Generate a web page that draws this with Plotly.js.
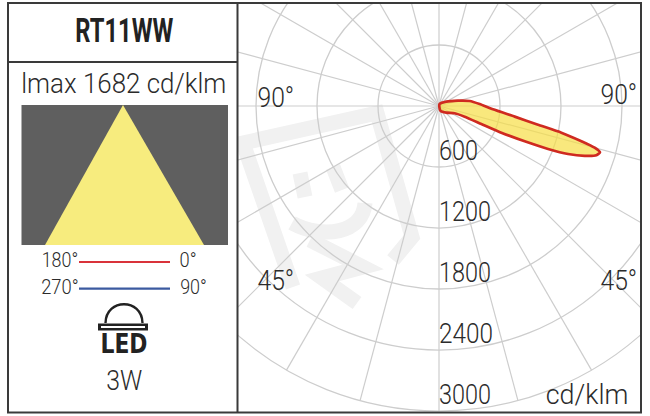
<!DOCTYPE html>
<html>
<head>
<meta charset="utf-8">
<script src="https://cdn.plot.ly/plotly-3.0.1.min.js"></script>
<style>
html,body{margin:0;padding:0;background:#fff;width:650px;height:416px;overflow:hidden;position:relative}
#chart{position:absolute;left:0;top:-199px;width:744px;height:625px}
</style>
</head>
<body>
<div id="chart"></div>
<script>
// Luminous intensity outline (cd/klm) by angle from nadir (degrees)
var lobeTheta = [161.6,120.6,105.7,99.3,92.8,86.5,82,79.3,77.7,76.1,75,73.95,72.6,71.1,69.6,68.5,67.6,66.8,67,67.4,65,47.7,18.4,26,161.6];
var lobeR     = [21,84,194,306,400,532,752,991,1232,1443,1585,1648,1622,1515,1354,1153,912,667,452,273,170,97,52,7,21];
var radialValues = [600,1200,1800,2400,3000];
var radialLabels = ['600','1200','1800','2400','3000'];
var angleLabels = ['90°','90°','45°','45°'];
var title = 'RT11WW';
var peakText = 'lmax 1682 cd/klm';
var powerText = '3W';
var unitText = 'cd/klm';
var legendLeft = ['180°','270°'];
var legendRight = ['0°','90°'];

var W = 744, H = 625, TOP = 199, R = 610;
var X = function(x){ return x / W; };
var Y = function(y){ return 1 - (y + TOP) / H; };

var FONT = 'Roboto,"Liberation Sans",sans-serif';
var INK = '#2b2b2b', FRAME = '#3a3a3a', GRID = '#cdcdcd';

function txt(text,x,y,size,opts){
  return Object.assign({text:text,xref:'paper',yref:'paper',x:X(x),y:Y(y),showarrow:false,
    xanchor:'center',yanchor:'middle',borderpad:0,
    font:{family:FONT,size:size,color:INK,weight:300}},opts||{});
}
function rect(x0,y0,x1,y1,fill){
  return {type:'rect',xref:'paper',yref:'paper',x0:X(x0),x1:X(x1),y0:Y(y0),y1:Y(y1),
    fillcolor:fill,line:{width:0},layer:'above'};
}
function seg(x0,y0,x1,y1,color,width){
  return {type:'line',xref:'paper',yref:'paper',x0:X(x0),x1:X(x1),y0:Y(y0),y1:Y(y1),
    line:{color:color,width:width},layer:'above'};
}
function path(d,opts){
  return Object.assign({type:'path',xref:'paper',yref:'paper',path:d,layer:'above',line:{width:0}},opts||{});
}
function P(cmds){
  return cmds.map(function(c){
    var s=c[0];
    for(var i=1;i<c.length;i+=2){ s+=(i>1?' ':'')+X(c[i]).toFixed(5)+','+Y(c[i+1]).toFixed(5); }
    return s;
  }).join(' ');
}
var mark = {line:{color:'#f1f1f1',width:15},fillcolor:'rgba(0,0,0,0)',layer:'below'};

var shapes = [
  path(P([['M',293,287],['L',243,143],['L',377,113],['L',412,237],['L',393,260]]),mark),
  path(P([['M',300,173],['L',305,197]]),mark),
  path(P([['M',333,167],['L',342,190]]),mark),
  path(P([['M',292,223],['C',323,240,363,233,365,203]]),mark),
  path(P([['M',310,240],['L',363,267],['L',322,278],['L',357,303]]),mark),
  rect(0,-199,238,426,'#ffffff'),
  rect(641,-199,744,426,'#ffffff'),
  rect(0,-199,744,3,'#ffffff'),
  rect(0,413,744,426,'#ffffff'),
  rect(21.5,105,228,245,'#5f5f5f'),
  path(P([['M',123,105],['L',204,245],['L',45,245],['Z']]),{fillcolor:'#f7ec7e'}),
  seg(79,262,170,262,'#d9333a',2.2),
  seg(79,288.7,170,288.7,'#3b5aa0',2.2),
  path(P([['M',105.5,323],['C',106,298,142,298,142.5,323]]),{line:{color:'#222',width:2.4},fillcolor:'rgba(0,0,0,0)'}),
  rect(98,323.5,148,330.5,'#222222'),
  rect(101,326,145,328,'#ffffff'),
  {type:'rect',xref:'paper',yref:'paper',x0:X(8),x1:X(641),y0:Y(3),y1:Y(412.5),line:{color:FRAME,width:2},fillcolor:'rgba(0,0,0,0)',layer:'above'},
  seg(237.5,3,237.5,412.5,FRAME,2),
  seg(8,62,237.5,62,FRAME,2)
];

var LEGEND_SIZE = 19.5, LABEL_SIZE = 28;
var annotations = [
  txt('<b>'+title+'</b>',125,30.5,34,{font:{family:FONT,size:34,color:'#222'}}),
  txt(peakText,124,84,27),
  txt(legendLeft[0],60,260,LEGEND_SIZE),
  txt(legendLeft[1],59.5,287.5,LEGEND_SIZE),
  txt(legendRight[0],188,260,LEGEND_SIZE),
  txt(legendRight[1],193.5,287.5,LEGEND_SIZE),
  txt('<b>LED</b>',123.5,343.5,26,{font:{family:'"DejaVu Sans",sans-serif',size:26,color:'#222'}}),
  txt(powerText,124.7,380,LABEL_SIZE),
  txt(angleLabels[0],275.6,97.7,LABEL_SIZE),
  txt(angleLabels[1],619,95,LABEL_SIZE),
  txt(angleLabels[2],275.6,280,LABEL_SIZE),
  txt(angleLabels[3],619,280,LABEL_SIZE),
  txt(unitText,586.7,394.5,LABEL_SIZE)
];

var traces = [
  {type:'scatterpolar',mode:'lines',r:lobeR,theta:lobeTheta,fill:'toself',
   fillcolor:'rgba(247,222,70,0.7)',line:{color:'#cf2a20',width:2.7,shape:'spline',smoothing:0.5},hoverinfo:'skip'},
  {type:'scatterpolar',mode:'text',r:radialValues,theta:radialValues.map(function(){return 0;}),
   text:radialLabels,textposition:'top right',cliponaxis:false,
   textfont:{family:FONT,size:LABEL_SIZE,color:INK,weight:300},hoverinfo:'skip'}
];

var layout = {
  width:W,height:H,margin:{l:0,r:0,t:0,b:0,pad:0},
  paper_bgcolor:'#ffffff',showlegend:false,
  polar:{
    domain:{x:[(W-R)/W,1],y:[(H-R)/H,1]},
    bgcolor:'rgba(0,0,0,0)',
    angularaxis:{rotation:-90,direction:'counterclockwise',dtick:15,tick0:0,
      showticklabels:false,ticks:'',gridcolor:GRID,gridwidth:1.2,linecolor:GRID,linewidth:1.2,showline:true},
    radialaxis:{range:[0,3000],dtick:600,tick0:0,showticklabels:false,ticks:'',
      gridcolor:GRID,gridwidth:1.3,showline:false}
  },
  shapes:shapes,annotations:annotations
};

// The reference typeface is condensed: fit each label to its measured width.
var fitWidths = {'RT11WW':98,'lmax 1682 cd/klm':205,'180°':36.5,'270°':37.5,'0°':17,'LED':47,'3W':36,
  'cd/klm':82.7,'600':39,'1200':52,'1800':52,'2400':54,'3000':52,'45°':36.7};
var ninetyWidths = {legend:26.7,chart:36.7};

Plotly.newPlot('chart',traces,layout,{displayModeBar:false,staticPlot:true}).then(function(gd){
  gd.querySelectorAll('svg text').forEach(function(t){
    var s = t.textContent, w = fitWidths[s];
    if(s==='90°'){ w = parseFloat(getComputedStyle(t).fontSize) < 24 ? ninetyWidths.legend : ninetyWidths.chart; }
    if(w){ t.setAttribute('textLength',w); t.setAttribute('lengthAdjust','spacingAndGlyphs'); }
  });
});
</script>
</body>
</html>
